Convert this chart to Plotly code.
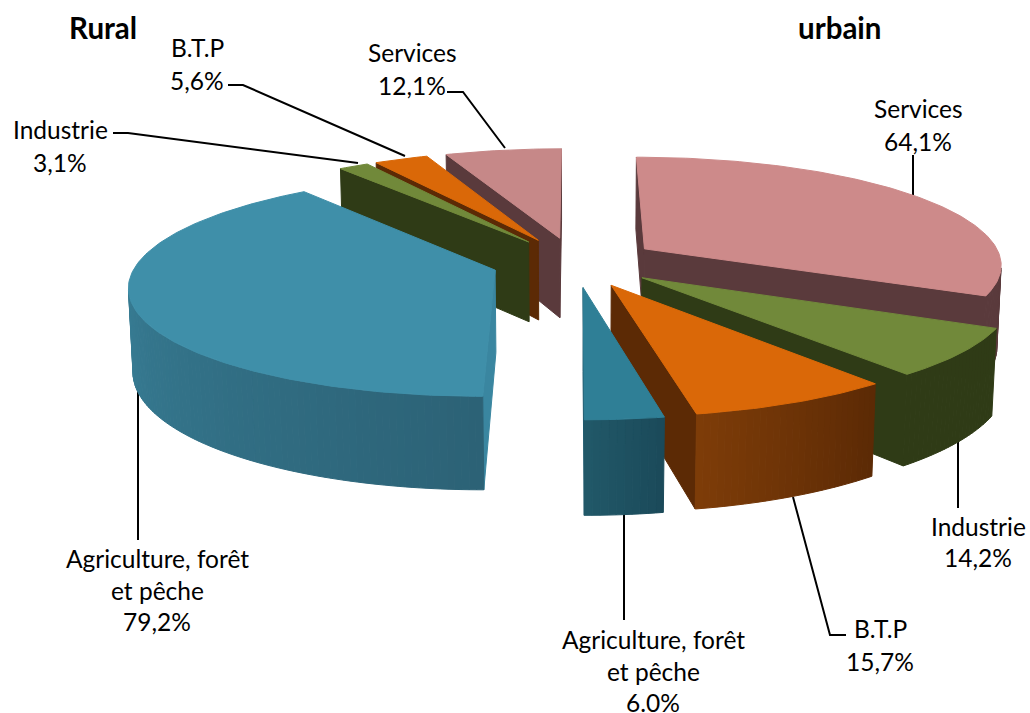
import math
import plotly.graph_objects as go

# data, clockwise from 12 o'clock (a single exploded 3D pie, total 200)
categories = ["Services", "Industrie", "B.T.P", "Agriculture, forêt et pêche",
              "Agriculture, forêt et pêche", "Industrie", "B.T.P", "Services"]
values = [64.1, 14.2, 15.7, 6.0, 79.2, 3.1, 5.6, 12.1]
value_labels = ["64,1%", "14,2%", "15,7%", "6.0%", "79,2%", "3,1%", "5,6%", "12,1%"]
titles = ["Rural", "urbain"]

# styles per slice
top_colors = ["#CD8A8A", "#71893A", "#DA6808", "#2F7F96", "#3F8FA9", "#71893A", "#DA6808", "#C68888"]
side_start = ["#5A3A3C", "#2F3B16", "#5C2A05", "#1B4A5A", "#2C6276", "#2F3B16", "#5C2A05", "#5A3A3C"]
side_end = ["#5A3A3C", "#2F3B16", "#7D3C08", "#215868", "#3F8FA9", "#2F3B16", "#5C2A05", "#5A3A3C"]
cut_colors = ["#5A3A3C", "#2F3B16", "#5C2A05", "#1F5A6E", "#3A86A0", "#2F3B16", "#5C2A05", "#5A3A3C"]
# painter's order: back slices first
draw_order = [7, 6, 5, 0, 1, 2, 4, 3]

# projection
CX, CY = 575.0, 262.0
F, D, ELEV = 2574.0, 7.15, math.radians(17.4)
RADIUS, EXPLODE, HEIGHT = 0.995, 0.232, 0.24


def project(X, Y, Z):
    se, ce = math.sin(ELEV), math.cos(ELEV)
    depth = D + Y * ce - Z * se
    return CX + F * X / depth, CY - F * (Y * se + Z * ce) / depth


def hex2rgb(c):
    return [int(c[i:i + 2], 16) for i in (1, 3, 5)]


def mix(a, b, t):
    ra, rb = hex2rgb(a), hex2rgb(b)
    return "rgb(%d,%d,%d)" % tuple(round(x + (y - x) * t) for x, y in zip(ra, rb))


def area(p):
    return sum(p[i][0] * p[(i + 1) % len(p)][1] - p[(i + 1) % len(p)][0] * p[i][1] for i in range(len(p)))


fig = go.Figure()

# leader lines (drawn first: the pie covers their inner ends)
leaders = [
    ([447, 463, 505], [92, 92, 148]),
    ([228, 243, 405], [85, 85, 156]),
    ([113, 128, 358], [133, 133, 163]),
    ([138, 138], [385, 540]),
    ([913, 913], [155, 195]),
    ([958, 958], [440, 508]),
    ([793, 830, 846], [497, 635, 635]),
    ([624, 624], [510, 620]),
]
for lx, ly in leaders:
    fig.add_trace(go.Scatter(x=lx, y=ly, mode="lines", line=dict(color="black", width=2),
                             hoverinfo="skip", showlegend=False))


def poly(pts, color):
    fig.add_trace(go.Scatter(
        x=[p[0] for p in pts] + [pts[0][0]], y=[p[1] for p in pts] + [pts[0][1]],
        mode="lines", fill="toself", fillcolor=color,
        line=dict(color=color, width=1), hoverinfo="skip", showlegend=False))


total = sum(values)
starts = [sum(values[:i]) / total * 2 * math.pi for i in range(len(values))]

for i in draw_order:
    a0 = starts[i]
    a1 = a0 + values[i] / total * 2 * math.pi
    mid = (a0 + a1) / 2
    ox, oy = EXPLODE * math.sin(mid), EXPLODE * math.cos(mid)
    n = max(3, int((a1 - a0) / math.radians(1)))
    angs = [a0 + (a1 - a0) * k / n for k in range(n + 1)]
    rim = [(ox + RADIUS * math.sin(a), oy + RADIUS * math.cos(a)) for a in angs]
    apex = (ox, oy)

    def quad(p, q):
        return [project(p[0], p[1], 0), project(q[0], q[1], 0),
                project(q[0], q[1], -HEIGHT), project(p[0], p[1], -HEIGHT)]

    for p, q in ((apex, rim[0]), (rim[-1], apex)):
        q4 = quad(p, q)
        if area(q4) < 0:
            poly(q4, cut_colors[i])
    for k in range(n):
        q4 = quad(rim[k], rim[k + 1])
        if area(q4) < 0:
            poly(q4, mix(side_start[i], side_end[i], k / max(1, n - 1)))
    poly([project(apex[0], apex[1], 0)] + [project(x, y, 0) for x, y in rim], top_colors[i])

# label positions: (x, [y per line])
label_pos = {
    0: (918, [108, 141]),
    1: (978, [526, 557]),
    2: (880, [628, 661]),
    3: (653, [639, 671, 702]),
    4: (157, [558, 590, 621]),
    5: (60, [129, 162]),
    6: (197, [47, 80]),
    7: (412, [52, 85]),
}
FONT = "Lato, Carlito, Calibri, sans-serif"
anns = []
for i, (x, ys) in label_pos.items():
    cat = categories[i]
    lines = ["Agriculture, forêt", "et pêche"] if cat.startswith("Agri") else [cat]
    lines = lines + [value_labels[i]]
    for t, y in zip(lines, ys):
        anns.append(dict(x=x, y=y, text=t, showarrow=False, xanchor="center", yanchor="middle",
                         font=dict(family=FONT, size=24.5, color="black")))
for t, x in zip(titles, (103, 840)):
    anns.append(dict(x=x, y=27, text="<b>%s</b>" % t, showarrow=False, xanchor="center", yanchor="middle",
                     font=dict(family=FONT, size=29.5, color="black")))

fig.update_layout(
    width=1030, height=713, margin=dict(l=0, r=0, t=0, b=0),
    paper_bgcolor="white", plot_bgcolor="white", showlegend=False, annotations=anns,
    xaxis=dict(range=[0, 1030], visible=False, fixedrange=True),
    yaxis=dict(range=[713, 0], visible=False, fixedrange=True),
)
fig.write_html("out.html", post_script="document.body.style.margin='0';",
               config={"displayModeBar": False})
